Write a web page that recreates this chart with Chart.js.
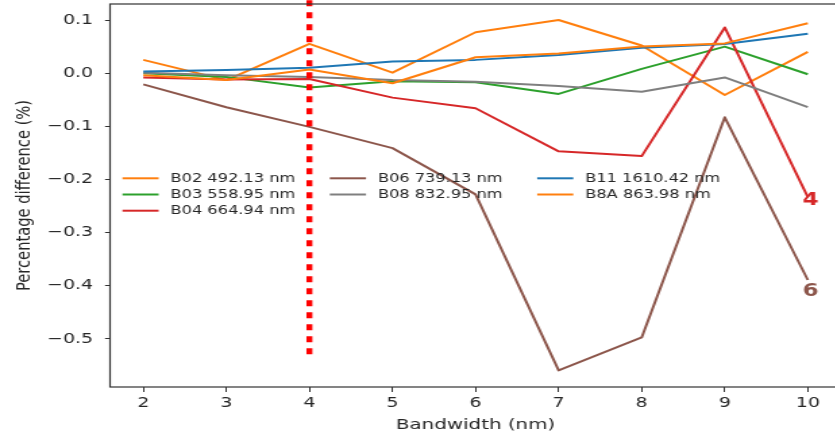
<!DOCTYPE html>
<html>
<head>
<meta charset="utf-8">
<script src="https://cdn.jsdelivr.net/npm/chart.js@4.4.1/dist/chart.umd.min.js"></script>
<style>
  html, body { margin: 0; padding: 0; overflow: hidden; background: #fff; }
  /* the reference is stretched sideways, so the whole chart is too */
  #wrap { width: 630px; height: 436px; transform: scaleX(1.35); transform-origin: 0 0; }
</style>
</head>
<body>
<div id="wrap"><canvas id="chart"></canvas></div>
<script>
// Chart data
var bandwidths = [2, 3, 4, 5, 6, 7, 8, 9, 10];
var yTicks = [-0.5, -0.4, -0.3, -0.2, -0.1, 0.0, 0.1];

var bandNames = ["B02 492.13 nm", "B03 558.95 nm", "B04 664.94 nm", "B06 739.13 nm",
                 "B08 832.95 nm", "B11 1610.42 nm", "B8A 863.98 nm"];
var bandColors = ['#ff7f0e', '#2ca02c', '#d62728', '#8c564b', '#7f7f7f', '#1f77b4', '#ff7f0e'];

var B02 = [0.025, -0.013, 0.055, 0.001, 0.077, 0.100, 0.052, -0.041, 0.040];
var B03 = [0.000, -0.007, -0.027, -0.015, -0.017, -0.039, 0.008, 0.050, -0.002];
var B04 = [-0.008, -0.012, -0.011, -0.046, -0.066, -0.147, -0.156, 0.086, -0.233];
var B06 = [-0.021, -0.064, -0.101, -0.141, -0.228, -0.559, -0.497, -0.083, -0.389];
var B08 = [0.001, -0.004, -0.007, -0.013, -0.016, -0.024, -0.035, -0.008, -0.064];
var B11 = [0.003, 0.006, 0.010, 0.022, 0.025, 0.034, 0.048, 0.055, 0.074];
var B8A = [-0.004, -0.013, 0.007, -0.019, 0.030, 0.037, 0.050, 0.056, 0.094];
var series = [B02, B03, B04, B06, B08, B11, B8A];

// red dotted marker at 4 nm
var markerX = 4;
var markerSpan = [0.137, -0.530];

// end labels
var endLabels = [
    { text: "4", x: 10, y: -0.240, color: '#d62728' },
    { text: "6", x: 10, y: -0.410, color: '#8c564b' }
];

Chart.defaults.font.family = "'DejaVu Sans', sans-serif";
Chart.defaults.color = '#262626';

var datasets = series.map(function (vals, i) {
    return {
        label: bandNames[i],
        data: vals.map(function (v, j) { return { x: bandwidths[j], y: v }; }),
        borderColor: bandColors[i],
        borderWidth: 2,
        borderJoinStyle: 'round',
        pointRadius: 0,
        fill: false,
        tension: 0,
        order: -i
    };
});

datasets.push({
    label: 'marker',
    data: markerSpan.map(function (v) { return { x: markerX, y: v }; }),
    borderColor: '#ff0000',
    borderWidth: 4.4,
    borderDash: [6, 6],
    borderCapStyle: 'butt',
    pointRadius: 0,
    clip: false,
    order: -20
});

// frame, legend and end labels
var extras = {
    id: 'extras',
    afterDraw: function (chart) {
        var ctx = chart.ctx;
        var a = chart.chartArea;
        ctx.save();
        ctx.strokeStyle = '#333';
        ctx.lineWidth = 1.2;
        ctx.strokeRect(a.left, a.top, a.right - a.left, a.bottom - a.top);

        // legend, column by column like matplotlib
        var colX = [90.7, 244.3, 397.9];
        var rowY = [178.3, 194.5, 210.7];
        ctx.font = "12px 'DejaVu Sans'";
        ctx.textBaseline = 'middle';
        ctx.textAlign = 'left';
        for (var i = 0; i < bandNames.length; i++) {
            var c = Math.floor(i / 3), r = i % 3;
            if (i >= 3) { c = 1 + Math.floor((i - 3) / 2); r = (i - 3) % 2; }
            var x = colX[c], y = rowY[r];
            ctx.strokeStyle = bandColors[i];
            ctx.lineWidth = 2;
            ctx.beginPath();
            ctx.moveTo(x, y);
            ctx.lineTo(x + 26.8, y);
            ctx.stroke();
            ctx.fillStyle = '#262626';
            ctx.fillText(bandNames[i], x + 35.6, y + 0.5);
        }

        var xs = chart.scales.x, ys = chart.scales.y;
        ctx.font = "bold 17px 'DejaVu Sans'";
        ctx.textAlign = 'center';
        endLabels.forEach(function (l) {
            ctx.fillStyle = l.color;
            ctx.fillText(l.text, xs.getPixelForValue(l.x) + 2, ys.getPixelForValue(l.y));
        });
        ctx.restore();
    }
};

var ctx = document.getElementById('chart');

var chartOptions = {
    responsive: true,
    maintainAspectRatio: false,
    animation: false,
    layout: { padding: { left: 0, right: 7, top: 4, bottom: 0 } },
    plugins: { legend: { display: false }, tooltip: { enabled: false } },
    scales: {
        x: {
            type: 'linear',
            min: 1.6,
            max: 10.4,
            afterBuildTicks: function (s) { s.ticks = bandwidths.map(function (v) { return { value: v }; }); },
            afterFit: function (s) { s.height = 49; s.paddingLeft = 0; s.paddingRight = 0; },
            grid: { display: true, drawOnChartArea: false, tickLength: 5, color: '#333', lineWidth: 1 },
            border: { display: false },
            ticks: { autoSkip: false, maxRotation: 0, padding: 3, font: { size: 14 }, color: '#262626' },
            title: { display: true, text: 'Bandwidth (nm)', font: { size: 14.7 }, color: '#262626', padding: { top: 3, bottom: 2 } }
        },
        y: {
            min: -0.5903,
            max: 0.1301,
            afterBuildTicks: function (s) { s.ticks = yTicks.map(function (v) { return { value: v }; }); },
            afterFit: function (s) { s.width = 81.5; s.paddingTop = 0; s.paddingBottom = 0; },
            grid: { display: true, drawOnChartArea: false, tickLength: 3.7, color: '#333', lineWidth: 1 },
            border: { display: false },
            ticks: {
                autoSkip: false,
                padding: 8.9,
                font: { size: 14 },
                color: '#262626',
                callback: function (v) { return v.toFixed(1).replace('-', '\u2212'); }
            },
            title: { display: true, text: 'Percentage difference (%)', font: { size: 14.7 }, color: '#262626', padding: { top: 9.3, bottom: 0 } }
        }
    }
};

var lineChart = new Chart(ctx, {
    type: 'line',
    data: { datasets: datasets },
    options: chartOptions,
    plugins: [extras]
});
</script>
</body>
</html>
